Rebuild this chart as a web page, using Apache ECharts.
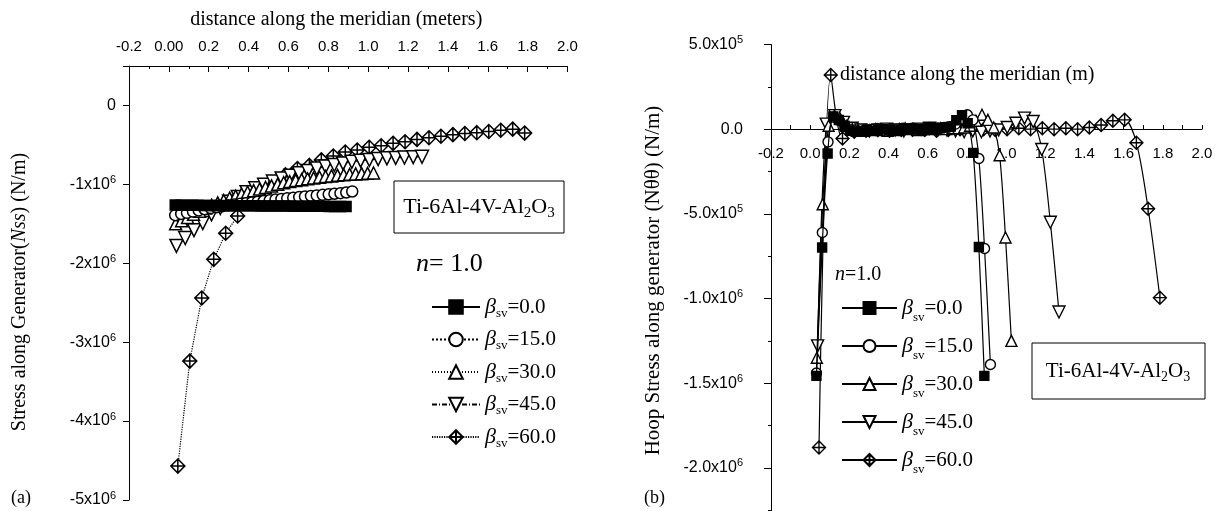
<!DOCTYPE html>
<html>
<head>
<meta charset="utf-8">
<script src="https://cdn.jsdelivr.net/npm/echarts/dist/echarts.min.js"></script>
<style>
  html, body { margin: 0; padding: 0; background: #fff; }
  #chart { width: 1230px; height: 511px; }
</style>
</head>
<body>
<div id="chart"></div>
<script>
// ---- distance along the meridian (m), one list per β_sv ----
const x00 = [0.032,0.061,0.089,0.118,0.146,0.175,0.204,0.232,0.261,0.289,0.318,0.346,0.375,0.404,0.432,0.461,0.489,0.518,0.546,0.575,0.604,0.632,0.661,0.689,0.718,0.746,0.775,0.804,0.832,0.861,0.889];
const x15 = [0.032,0.062,0.091,0.121,0.150,0.180,0.210,0.239,0.269,0.298,0.328,0.358,0.387,0.417,0.446,0.476,0.506,0.535,0.565,0.594,0.624,0.654,0.683,0.713,0.742,0.772,0.802,0.831,0.861,0.890,0.920];
const x30 = [0.034,0.064,0.094,0.124,0.154,0.184,0.215,0.245,0.275,0.305,0.335,0.365,0.395,0.425,0.455,0.485,0.515,0.546,0.576,0.606,0.636,0.666,0.696,0.726,0.756,0.786,0.816,0.846,0.877,0.907,0.937,0.967,0.997,1.027];
const x45 = [0.038,0.082,0.126,0.170,0.214,0.258,0.302,0.346,0.390,0.434,0.478,0.522,0.566,0.610,0.654,0.698,0.742,0.786,0.830,0.874,0.918,0.962,1.006,1.050,1.094,1.138,1.182,1.226,1.270];
const x60 = [0.045,0.105,0.165,0.225,0.285,0.345,0.405,0.465,0.525,0.585,0.645,0.705,0.765,0.825,0.885,0.945,1.005,1.065,1.125,1.185,1.245,1.305,1.365,1.425,1.485,1.545,1.605,1.665,1.725,1.785];

// ---- (a) meridional stress resultant Nss, in units of 1e6 N/m ----
const nss00 = [-1.262,-1.264,-1.265,-1.266,-1.266,-1.267,-1.268,-1.268,-1.269,-1.270,-1.270,-1.271,-1.271,-1.272,-1.272,-1.273,-1.273,-1.274,-1.274,-1.275,-1.275,-1.276,-1.276,-1.277,-1.277,-1.278,-1.278,-1.279,-1.279,-1.280,-1.280];
const nss15 = [-1.39,-1.375,-1.36,-1.345,-1.33,-1.315,-1.30,-1.29,-1.277,-1.266,-1.256,-1.247,-1.238,-1.229,-1.22,-1.211,-1.202,-1.193,-1.185,-1.177,-1.169,-1.161,-1.154,-1.147,-1.14,-1.133,-1.126,-1.119,-1.112,-1.103,-1.09];
const nss30 = [-1.50,-1.46,-1.42,-1.38,-1.34,-1.30,-1.265,-1.235,-1.205,-1.175,-1.15,-1.125,-1.10,-1.08,-1.06,-1.04,-1.02,-1.0,-0.98,-0.965,-0.95,-0.94,-0.93,-0.92,-0.91,-0.90,-0.893,-0.886,-0.879,-0.873,-0.868,-0.864,-0.86,-0.856];
const nss45 = [-1.78,-1.68,-1.58,-1.49,-1.38,-1.30,-1.22,-1.16,-1.10,-1.05,-1.005,-0.965,-0.925,-0.89,-0.86,-0.83,-0.80,-0.775,-0.755,-0.735,-0.715,-0.70,-0.69,-0.68,-0.67,-0.665,-0.66,-0.655,-0.65];
const nss60 = [-4.57,-3.24,-2.44,-1.95,-1.62,-1.40,-1.20,-1.08,-0.98,-0.88,-0.80,-0.76,-0.69,-0.64,-0.59,-0.565,-0.53,-0.51,-0.48,-0.46,-0.43,-0.41,-0.39,-0.37,-0.355,-0.345,-0.33,-0.315,-0.30,-0.35];

// ---- (b) hoop stress resultant Nθθ, in units of 1e5 N/m ----
const nth00 = [-14.57,-6.99,-1.44,0.75,0.55,0.2,-0.1,-0.15,-0.1,-0.05,-0.1,-0.05,0,-0.05,-0.1,-0.05,0,0.05,0,-0.05,0,0.05,0.05,0.1,0.15,0.53,0.83,0.35,-1.4,-6.96,-14.57];
const nth15 = [-14.4,-6.1,-0.75,0.7,0.5,0.15,-0.05,-0.1,-0.1,-0.05,0,-0.05,-0.1,-0.05,0,0.05,0,-0.05,0,0.05,0,0.05,0.1,0.15,0.3,0.6,0.85,0.55,-1.73,-7.05,-13.9];
const nth30 = [-13.5,-4.43,0.2,0.8,0.6,0.2,0,-0.05,-0.1,-0.05,0,-0.05,-0.1,-0.05,0,0.05,0,-0.05,0,0.05,0,0.05,0,0.05,0.05,0.1,0.2,0.5,0.85,0.55,0.1,-1.54,-6.4,-12.5];
const nth45 = [-12.8,0.3,0.8,0.4,0.05,-0.05,-0.1,-0.05,0,-0.05,-0.1,-0.05,0,0.05,0,-0.05,-0.1,-0.15,-0.1,-0.15,-0.1,-0.05,0.1,0.35,0.65,0.45,-1.2,-5.5,-10.8];
const nth60 = [-18.8,3.2,-0.55,-0.15,-0.1,-0.05,-0.1,-0.05,0,-0.05,-0.1,-0.05,0,0.05,0,-0.05,0,0.05,0,0.05,0,0.05,0,0.1,0.25,0.5,0.55,-0.8,-4.7,-9.95];

const betaValues = ['0.0', '15.0', '30.0', '45.0', '60.0'];

// ---- tick values and their printed labels ----
const ticksAX = [-0.2, 0, 0.2, 0.4, 0.6, 0.8, 1.0, 1.2, 1.4, 1.6, 1.8, 2.0];
const tickLabelsAX = ['-0.2', '0.00', '0.2', '0.4', '0.6', '0.8', '1.0', '1.2', '1.4', '1.6', '1.8', '2.0'];
const ticksAY = [0, -1, -2, -3, -4, -5];
const tickLabelsAY = ['0', '-1x10^6', '-2x10^6', '-3x10^6', '-4x10^6', '-5x10^6'];
const ticksBX = [-0.2, 0, 0.2, 0.4, 0.6, 0.8, 1.0, 1.2, 1.4, 1.6, 1.8, 2.0];
const tickLabelsBX = ['-0.2', '0.0', '0.2', '0.4', '0.6', '0.8', '1.0', '1.2', '1.4', '1.6', '1.8', '2.0'];
const ticksBY = [5, 0, -5, -10, -15, -20];
const tickLabelsBY = ['5.0x10^5', '0.0', '-5.0x10^5', '-1.0x10^6', '-1.5x10^6', '-2.0x10^6'];

// ---- drawing helpers ----
const SERIF = "'Liberation Serif', 'Times New Roman', serif";
const SANS = "'Liberation Sans', Arial, Helvetica, sans-serif";
const DIAMOND = 'path://M0,-10L10,0L0,10L-10,0Z M0,-10L0,10 M-10,0L10,0';

const xsAll = [x00, x15, x30, x45, x60];
const nssAll = [nss00, nss15, nss30, nss45, nss60];
const nthAll = [nth00, nth15, nth30, nth45, nth60];
const symbols = ['rect', 'circle', 'triangle', 'triangle', DIAMOND];
const rotations = [0, 0, 0, 180, 0];
const fills = ['#000', '#fff', '#fff', '#fff', '#fff'];
const sizesA = [10, 11, 12, 13, 14];
const sizesB = [9, 10, 11, 12, 13];
const dashA = ['solid', [2, 2], [1, 2], [5, 2, 1, 2], [1.2, 1.2]];

function sup(label, big) {
  const n = big ? 'N' : 'n', p = big ? 'P' : 'p';
  const k = label.indexOf('^');
  if (k < 0) return '{' + n + '|' + label + '}';
  return '{' + n + '|' + label.slice(0, k) + '}{' + p + '|' + label.slice(k + 1) + '}';
}
function tickLabel(v, vals, labels, big) {
  for (let i = 0; i < vals.length; i++) {
    if (Math.abs(v - vals[i]) < 1e-6) return sup(labels[i], big);
  }
  return '';
}
const labelRich = {
  n: { fontFamily: SANS, fontSize: 15, lineHeight: 19, color: '#000' },
  p: { fontFamily: SANS, fontSize: 10, verticalAlign: 'top', color: '#000' },
  N: { fontFamily: SANS, fontSize: 16, lineHeight: 20, color: '#000' },
  P: { fontFamily: SANS, fontSize: 11, verticalAlign: 'top', color: '#000' }
};
function pairs(xs, ys) { return xs.map((x, i) => [x, ys[i]]); }

const namesA = betaValues.map(b => '(a) β=' + b);
const namesB = betaValues.map(b => '(b) β=' + b);

const series = [];
for (let i = 0; i < 5; i++) {
  series.push({
    name: namesA[i], type: 'line', xAxisIndex: 0, yAxisIndex: 0,
    data: pairs(xsAll[i], nssAll[i]),
    symbol: symbols[i], symbolRotate: rotations[i], symbolSize: sizesA[i],
    showAllSymbol: true, silent: true, animation: false,
    lineStyle: { color: '#000', width: 1.2, type: dashA[i] },
    itemStyle: { color: fills[i], borderColor: '#000', borderWidth: 1.5 },
    emphasis: { disabled: true },
    z: 2 + (4 - i) * 0.1
  });
}
for (let i = 0; i < 5; i++) {
  series.push({
    name: namesB[i], type: 'line', xAxisIndex: 1, yAxisIndex: 1,
    data: pairs(xsAll[i], nthAll[i]),
    symbol: symbols[i], symbolRotate: rotations[i], symbolSize: sizesB[i],
    showAllSymbol: true, silent: true, animation: false,
    smooth: 0.3, smoothConstraint: false,
    lineStyle: { color: '#000', width: 1.2, type: 'solid' },
    itemStyle: { color: fills[i], borderColor: '#000', borderWidth: 1.4 },
    emphasis: { disabled: true },
    z: 2 + (4 - i) * 0.1
  });
}

function legendRich(lh) {
  return {
    b: { fontFamily: SERIF, fontStyle: 'italic', fontSize: 22, lineHeight: lh, color: '#000' },
    s: { fontFamily: SERIF, fontSize: 13, verticalAlign: 'bottom', color: '#000' },
    t: { fontFamily: SERIF, fontSize: 21, lineHeight: lh, color: '#000' }
  };
}
const legendFormatter = name => '{b|β}{s|sv}{t|=' + name.split('=')[1] + '}';

const axisBlack = { lineStyle: { color: '#000', width: 1 } };

const option = {
  backgroundColor: '#fff',
  animation: false,
  grid: [
    { left: 129, top: 66, width: 438.5, height: 434, outerBoundsMode: 'none', containLabel: false },
    { left: 771, top: 44.5, width: 431, height: 508, outerBoundsMode: 'none', containLabel: false },
    // band from 5e5 down to the zero line of (b); its bottom edge carries the distance axis
    { left: 771, top: 44.5, width: 431, height: 84.6, outerBoundsMode: 'none', containLabel: false }
  ],
  xAxis: [
    {
      gridIndex: 0, type: 'value', position: 'top', min: -0.2, max: 2.0, interval: 0.2,
      axisLine: { onZero: false, ...axisBlack },
      axisTick: { inside: true, length: 6, ...axisBlack },
      minorTick: { show: true, splitNumber: 2, length: 3, ...axisBlack },
      splitLine: { show: false }, minorSplitLine: { show: false },
      axisLabel: { margin: 10, rich: labelRich, formatter: v => tickLabel(v, ticksAX, tickLabelsAX, false), hideOverlap: false },
      name: 'distance along the meridian (meters)', nameLocation: 'middle', nameGap: 36, nameMoveOverlap: false,
      nameTextStyle: { fontFamily: SERIF, fontSize: 20, color: '#000', padding: [0, 24, 0, 0] }
    },
    {
      gridIndex: 1, type: 'value', min: -0.2, max: 2.0, interval: 0.2, show: false,
      splitLine: { show: false }
    },
    {
      gridIndex: 2, type: 'value', position: 'bottom', min: -0.2, max: 2.0, interval: 0.2,
      axisLine: { onZero: false, ...axisBlack },
      axisTick: { inside: true, length: 4, ...axisBlack },
      minorTick: { show: true, splitNumber: 2, length: 4, ...axisBlack },
      splitLine: { show: false }, minorSplitLine: { show: false },
      axisLabel: { margin: 15, rich: labelRich, formatter: v => tickLabel(v, ticksBX, tickLabelsBX, false), hideOverlap: false }
    }
  ],
  yAxis: [
    {
      gridIndex: 0, type: 'value', min: -5, max: 0.5, interval: 1,
      axisLine: { onZero: false, ...axisBlack },
      axisTick: { inside: false, length: 6, ...axisBlack },
      splitLine: { show: false },
      axisLabel: { margin: 13, rich: labelRich, formatter: v => tickLabel(v, ticksAY, tickLabelsAY, true), hideOverlap: false },
      name: '{r|Stress along Generator(}{i|Nss}{r|) (N/m)}', nameLocation: 'middle', nameGap: 99, nameMoveOverlap: false,
      nameRotate: 90,
      nameTextStyle: {
        color: '#000', padding: [0, 18, 0, 0],
        rich: {
          r: { fontFamily: SERIF, fontSize: 20, color: '#000' },
          i: { fontFamily: SERIF, fontSize: 20, fontStyle: 'italic', color: '#000' }
        }
      }
    },
    {
      gridIndex: 1, type: 'value', min: -25, max: 5, interval: 5,
      axisLine: { onZero: false, ...axisBlack },
      axisTick: { inside: false, length: 7, ...axisBlack },
      minorTick: { show: true, splitNumber: 2, length: 3, ...axisBlack },
      splitLine: { show: false }, minorSplitLine: { show: false },
      axisLabel: { margin: 28, rich: labelRich, formatter: v => tickLabel(v, ticksBY, tickLabelsBY, true), hideOverlap: false },
      name: 'Hoop Stress along generator (Nθθ) (N/m)', nameLocation: 'middle', nameGap: 107, nameMoveOverlap: false,
      nameRotate: 90,
      nameTextStyle: { fontFamily: SERIF, fontSize: 21, color: '#000', padding: [0, 0, 0, 36] }
    },
    { gridIndex: 2, type: 'value', min: 0, max: 1, show: false, splitLine: { show: false } }
  ],
  legend: [
    {
      data: namesA, orient: 'vertical', left: 426, top: 291,
      itemWidth: 48, itemHeight: 17, itemGap: 8.5, selectedMode: false,
      formatter: legendFormatter,
      textStyle: { fontFamily: SERIF, fontSize: 21, color: '#000', rich: legendRich(26) }
    },
    {
      data: namesB, orient: 'vertical', left: 836, top: 292,
      itemWidth: 55, itemHeight: 15, itemGap: 11, selectedMode: false,
      formatter: legendFormatter,
      textStyle: { fontFamily: SERIF, fontSize: 21, color: '#000', rich: legendRich(32) }
    }
  ],
  graphic: [
    { type: 'rect', shape: { x: 394, y: 181, width: 170, height: 52 }, style: { fill: '#fff', stroke: '#000', lineWidth: 1 }, z: 50 },
    { type: 'text', x: 479, y: 207, z: 51, style: {
        text: '{t|Ti-6Al-4V-Al}{s|2}{t|O}{s|3}', align: 'center', verticalAlign: 'middle',
        rich: { t: { fontFamily: SERIF, fontSize: 22, lineHeight: 27, fill: '#000' },
                s: { fontFamily: SERIF, fontSize: 15, verticalAlign: 'bottom', fill: '#000' } } } },
    { type: 'text', x: 416, y: 264, z: 51, style: {
        text: '{i|n}{r|= 1.0}', align: 'left', verticalAlign: 'middle',
        rich: { i: { fontFamily: SERIF, fontSize: 26, fontStyle: 'italic', fill: '#000' },
                r: { fontFamily: SERIF, fontSize: 26, fill: '#000' } } } },
    { type: 'text', x: 11, y: 498, z: 51, style: { text: '(a)', fontFamily: SERIF, fontSize: 18, fill: '#000', align: 'left', verticalAlign: 'middle' } },

    { type: 'rect', shape: { x: 1032, y: 343, width: 173, height: 56 }, style: { fill: '#fff', stroke: '#000', lineWidth: 1 }, z: 50 },
    { type: 'text', x: 1118, y: 371, z: 51, style: {
        text: '{t|Ti-6Al-4V-Al}{s|2}{t|O}{s|3}', align: 'center', verticalAlign: 'middle',
        rich: { t: { fontFamily: SERIF, fontSize: 21, lineHeight: 26, fill: '#000' },
                s: { fontFamily: SERIF, fontSize: 14, verticalAlign: 'bottom', fill: '#000' } } } },
    { type: 'text', x: 835, y: 275, z: 51, style: {
        text: '{i|n}{r|=1.0}', align: 'left', verticalAlign: 'middle',
        rich: { i: { fontFamily: SERIF, fontSize: 20, fontStyle: 'italic', fill: '#000' },
                r: { fontFamily: SERIF, fontSize: 20, fill: '#000' } } } },
    { type: 'text', x: 840, y: 75, z: 51, style: { text: 'distance along the meridian (m)', fontFamily: SERIF, fontSize: 20, fill: '#000', align: 'left', verticalAlign: 'middle' } },
    { type: 'text', x: 644, y: 498, z: 51, style: { text: '(b)', fontFamily: SERIF, fontSize: 18, fill: '#000', align: 'left', verticalAlign: 'middle' } }
  ],
  series: series
};

const chart = echarts.init(document.getElementById('chart'), null, { renderer: 'canvas' });
chart.setOption(option);
</script>
</body>
</html>
